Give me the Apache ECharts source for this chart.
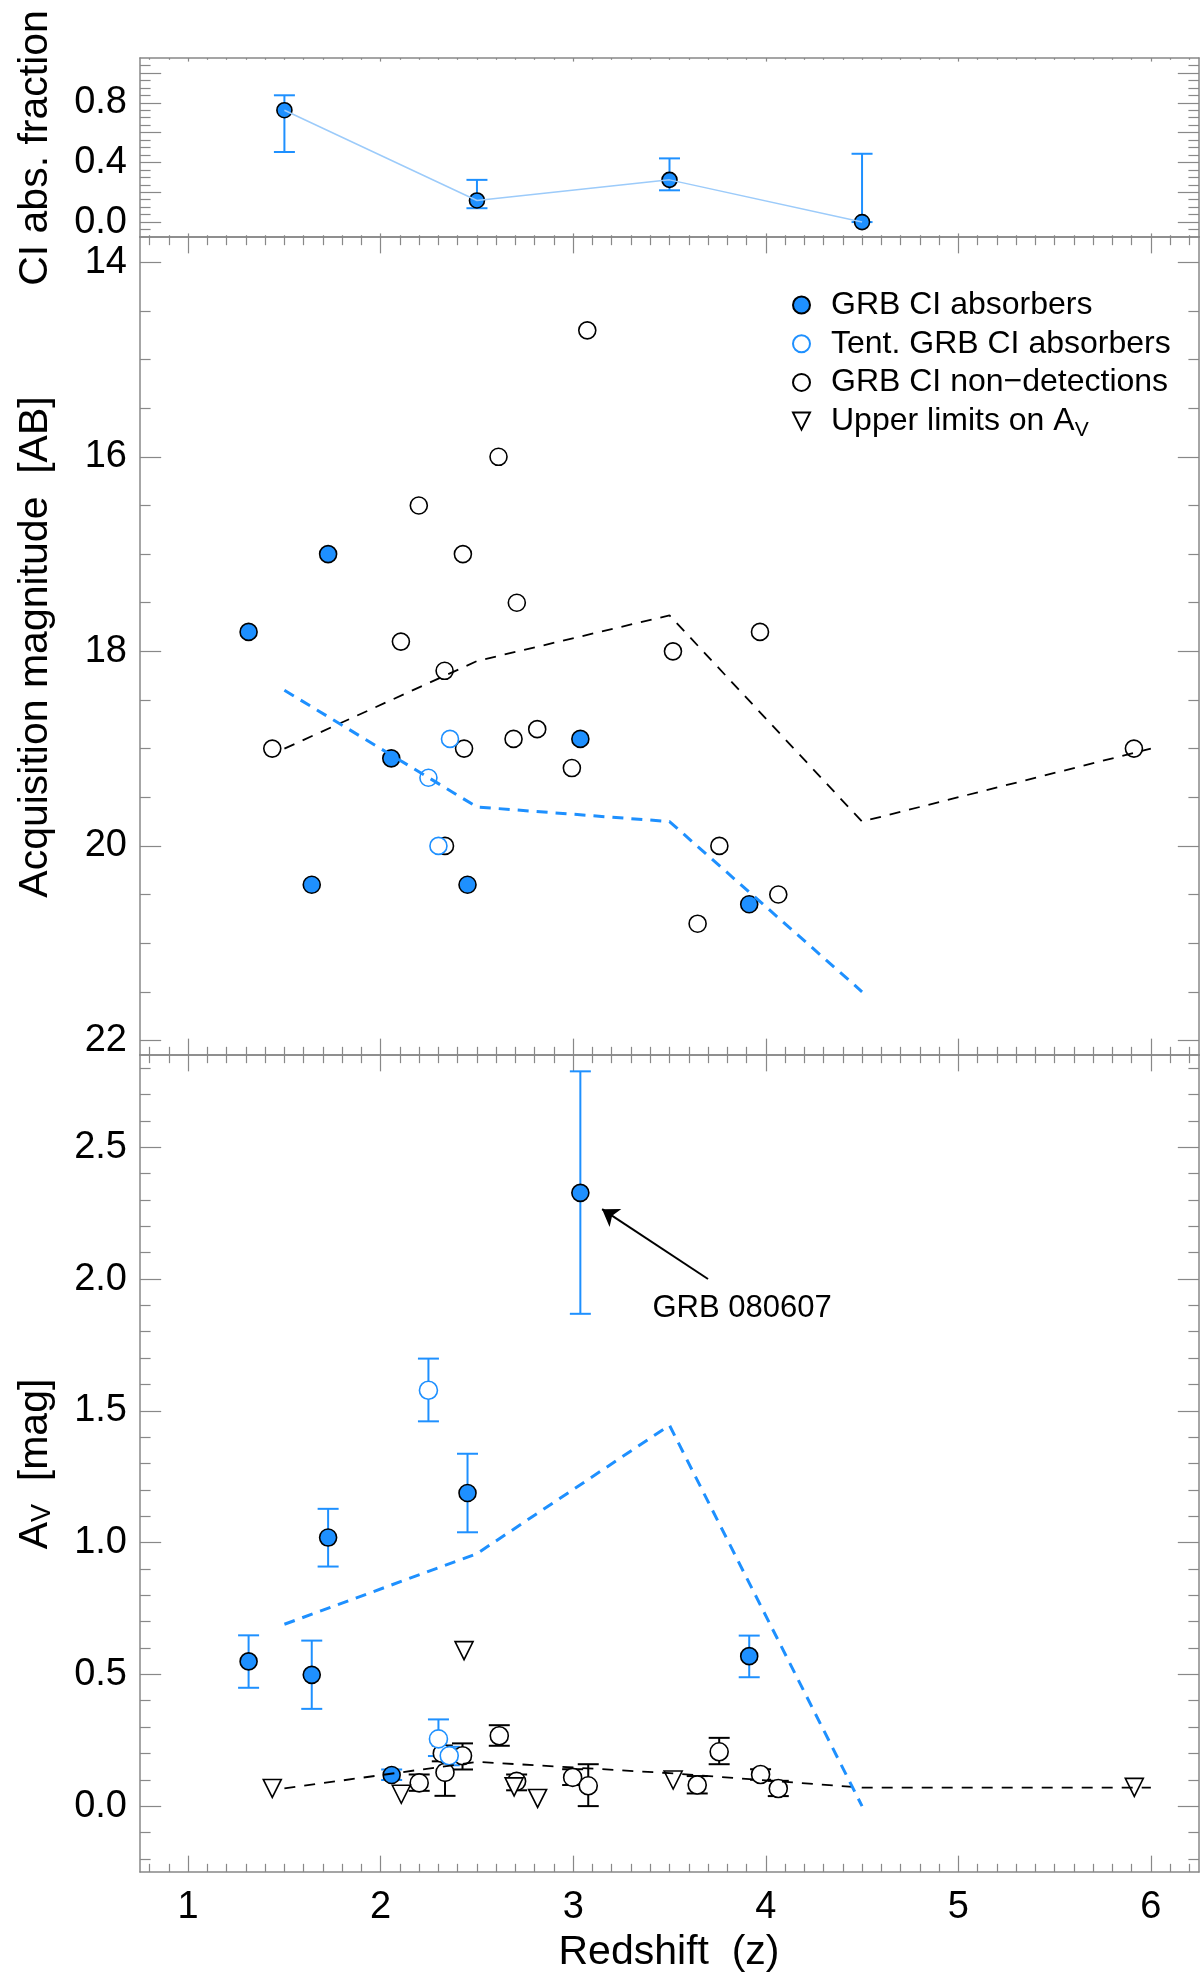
<!DOCTYPE html>
<html>
<head>
<meta charset="utf-8">
<script src="https://cdn.jsdelivr.net/npm/echarts@6/dist/echarts.min.js"></script>
<style>
html, body { margin: 0; padding: 0; background: #fff; }
#main { width: 1200px; height: 1986px; }
</style>
</head>
<body>
<div id="main"></div>
<script>
var FONT = '"Liberation Sans", Arial, Helvetica, sans-serif';
var BLUE = '#1e90ff';
var LIGHT = '#9ccbfa';
var AXIS = '#888888';
var TRI = 'path://M0,0L20,0L10,20Z';

// top panel: CI absorber fraction per redshift bin
var fracZ = [1.5, 2.5, 3.5, 4.5];
var fracVal = [0.75, 0.145, 0.283, 0.0];
var fracLow = [0.47, 0.093, 0.213, 0.0];
var fracHigh = [0.85, 0.283, 0.427, 0.458];

// middle panel: acquisition magnitude
var magAbsZ = [1.314, 1.642, 1.727, 2.055, 2.451, 3.037, 3.914];
var magAbsVal = [17.8, 20.4, 17.0, 19.1, 20.4, 18.9, 20.6];
var magTentZ = [2.248, 2.30, 2.36];
var magTentVal = [19.3, 20.0, 18.9];
var magNonZ = [1.437, 2.105, 2.198, 2.332, 2.334, 2.427, 2.433, 2.612, 2.69, 2.707, 2.813, 2.993, 3.073, 3.518, 3.646, 3.759, 3.97, 4.065, 5.912];
var magNonVal = [19.0, 17.9, 16.5, 18.2, 20.0, 17.0, 19.0, 16.0, 18.9, 17.5, 18.8, 19.2, 14.7, 18.0, 20.8, 20.0, 17.8, 20.5, 19.0];
var magBlackLineZ = [1.5, 2.5, 3.5, 4.5, 6.0];
var magBlackLineVal = [19.0, 18.1, 17.63, 19.75, 19.0];
var magBlueLineZ = [1.5, 2.5, 3.5, 4.5];
var magBlueLineVal = [18.4, 19.6, 19.75, 21.5];

// bottom panel: A_V
var avAbsZ = [1.314, 1.642, 1.727, 2.057, 2.451, 3.037, 3.914];
var avAbsVal = [0.549, 0.498, 1.019, 0.118, 1.188, 2.327, 0.569];
var avAbsLow = [0.449, 0.369, 0.909, 0.099, 1.039, 1.868, 0.489];
var avAbsHigh = [0.648, 0.628, 1.128, 0.139, 1.337, 2.788, 0.647];
var avTentZ = [2.248, 2.30, 2.356];
var avTentVal = [1.578, 0.255, 0.191];
var avTentLow = [1.46, 0.19, 0.155];
var avTentHigh = [1.698, 0.329, 0.225];
var avNonZ = [2.20, 2.32, 2.334, 2.425, 2.616, 2.706, 2.997, 3.078, 3.644, 3.758, 3.973, 4.065];
var avNonVal = [0.088, 0.20, 0.128, 0.191, 0.267, 0.094, 0.109, 0.077, 0.08, 0.206, 0.12, 0.067];
var avNonLow = [0.058, 0.17, 0.039, 0.139, 0.229, 0.06, 0.08, 0.0, 0.048, 0.159, 0.10, 0.038];
var avNonHigh = [0.12, 0.23, 0.217, 0.238, 0.307, 0.12, 0.14, 0.159, 0.114, 0.259, 0.14, 0.096];
var avLimZ = [1.437, 2.107, 2.433, 2.693, 2.815, 3.519, 5.914];
var avLimVal = [0.067, 0.045, 0.59, 0.073, 0.029, 0.099, 0.071];
var avBlackLineZ = [1.5, 2.5, 3.5, 4.5, 6.0];
var avBlackLineVal = [0.067, 0.168, 0.125, 0.07, 0.07];
var avBlueLineZ = [1.5, 2.5, 3.5, 4.5];
var avBlueLineVal = [0.69, 0.958, 1.445, 0.0];

// annotation arrow (tail, tip) in data units of the bottom panel
var arrowTail = [3.70, 2.0];
var arrowTip = [3.15, 2.265];

var xTickLabels = [1, 2, 3, 4, 5, 6];

var NAME_ABS = 'GRB CI absorbers';
var NAME_TENT = 'Tent. GRB CI absorbers';
var NAME_NON = 'GRB CI non\u2212detections';
var NAME_LIM = 'Upper limits on A_V';

function steps(a, b, s) {
    var out = [];
    for (var v = a; v <= b + 1e-9; v += s) out.push(Math.round(v * 1000) / 1000);
    return out;
}
function notOn(list, every) {
    return list.filter(function (v) {
        return Math.abs(v / every - Math.round(v / every)) > 1e-6;
    });
}

var grids = [
    { left: 140, top: 58, width: 1059, height: 179, outerBoundsMode: 'none' },
    { left: 140, top: 237, width: 1059, height: 818, outerBoundsMode: 'none' },
    { left: 140, top: 1055, width: 1059, height: 817, outerBoundsMode: 'none' }
];

var xMajor = steps(1, 6, 1);
var xMinor = notOn(steps(0.8, 6.2, 0.1), 1);

var yDefs = [
    { min: -0.1, max: 1.1, inverse: false, major: steps(0, 1, 0.2), minor: notOn(steps(-0.05, 1.05, 0.05), 0.2), labels: [0, 0.4, 0.8], dec: 1 },
    { min: 13.74, max: 22.15, inverse: true, major: steps(14, 22, 2), minor: notOn(steps(14, 22, 0.5), 2), labels: [14, 16, 18, 20, 22], dec: 0 },
    { min: -0.25, max: 2.85, inverse: false, major: steps(0, 2.5, 0.5), minor: notOn(steps(-0.2, 2.8, 0.1), 0.5), labels: [0, 0.5, 1, 1.5, 2, 2.5], dec: 1 }
];

var labelStyle = { color: '#000', fontFamily: FONT, fontSize: 38 };

function axis(gi, pos, min, max, inverse, ticks, len, withLine, labels, dec, margin) {
    return {
        type: 'value', gridIndex: gi, position: pos, min: min, max: max, inverse: inverse,
        axisLine: { show: withLine, onZero: false, lineStyle: { color: AXIS, width: 1.5 } },
        axisTick: { show: true, inside: true, length: len, customValues: ticks, lineStyle: { color: AXIS, width: 1.2 } },
        axisLabel: labels ? Object.assign({
            show: true, customValues: labels, margin: margin,
            formatter: function (v) { return v.toFixed(dec); }
        }, labelStyle) : { show: false },
        splitLine: { show: false }
    };
}

var xAxes = [], yAxes = [];
grids.forEach(function (g, gi) {
    var xl = g.height * 0.02;
    var yl = g.width * 0.02;
    var lab = gi === 2 ? xTickLabels : null;
    xAxes.push(axis(gi, 'bottom', 0.75, 6.25, false, xMajor, xl, true, lab, 0, 17));
    xAxes.push(axis(gi, 'bottom', 0.75, 6.25, false, xMinor, xl / 2, false, null));
    xAxes.push(axis(gi, 'top', 0.75, 6.25, false, xMajor, xl, true, null));
    xAxes.push(axis(gi, 'top', 0.75, 6.25, false, xMinor, xl / 2, false, null));
    var d = yDefs[gi];
    yAxes.push(axis(gi, 'left', d.min, d.max, d.inverse, d.major, yl, true, d.labels, d.dec, 13));
    yAxes.push(axis(gi, 'left', d.min, d.max, d.inverse, d.minor, yl / 2, false, null));
    yAxes.push(axis(gi, 'right', d.min, d.max, d.inverse, d.major, yl, true, null));
    yAxes.push(axis(gi, 'right', d.min, d.max, d.inverse, d.minor, yl / 2, false, null));
});

function pairs(zs, vals) {
    return zs.map(function (z, i) { return [z, vals[i]]; });
}

function points(name, gi, zs, vals, fill, stroke, size, symbol) {
    return {
        name: name, type: 'scatter', xAxisIndex: gi * 4, yAxisIndex: gi * 4,
        data: pairs(zs, vals),
        symbol: symbol || 'circle', symbolSize: size,
        itemStyle: { color: fill, borderColor: stroke, borderWidth: 1.6, opacity: 1 },
        emphasis: { disabled: true }
    };
}

function trend(name, gi, zs, vals, color, width, dash) {
    return {
        name: name, type: 'line', xAxisIndex: gi * 4, yAxisIndex: gi * 4,
        data: pairs(zs, vals), symbol: 'none', silent: true,
        lineStyle: { color: color, width: width, type: dash },
        emphasis: { disabled: true }
    };
}

function errorBars(name, gi, zs, lows, highs, color) {
    return {
        name: name, type: 'custom', xAxisIndex: gi * 4, yAxisIndex: gi * 4, silent: true,
        data: zs.map(function (z, i) { return [z, lows[i], highs[i]]; }),
        encode: { x: 0, y: [1, 2] },
        renderItem: function (params, api) {
            var lo = api.coord([api.value(0), api.value(1)]);
            var hi = api.coord([api.value(0), api.value(2)]);
            var cap = 10.5;
            var st = { stroke: color, lineWidth: 2 };
            return {
                type: 'group', children: [
                    { type: 'line', shape: { x1: lo[0], y1: lo[1], x2: hi[0], y2: hi[1] }, style: st },
                    { type: 'line', shape: { x1: lo[0] - cap, y1: lo[1], x2: lo[0] + cap, y2: lo[1] }, style: st },
                    { type: 'line', shape: { x1: hi[0] - cap, y1: hi[1], x2: hi[0] + cap, y2: hi[1] }, style: st }
                ]
            };
        }
    };
}

var absAv = points(NAME_ABS, 2, avAbsZ, avAbsVal, BLUE, '#000', 17);
absAv.markLine = {
    silent: true, symbol: ['none', 'arrow'], symbolSize: 16,
    lineStyle: { color: '#000', width: 2, type: 'solid' },
    label: { show: false },
    data: [[{ coord: arrowTail }, { coord: arrowTip }]]
};

var series = [
    // top
    trend('frac line', 0, fracZ, fracVal, LIGHT, 1.5, 'solid'),
    errorBars('frac err', 0, fracZ, fracLow, fracHigh, BLUE),
    points('frac', 0, fracZ, fracVal, BLUE, '#000', 15),
    // middle
    trend('mag black', 1, magBlackLineZ, magBlackLineVal, '#000', 1.8, [11, 9]),
    trend('mag blue', 1, magBlueLineZ, magBlueLineVal, BLUE, 3, [11, 8]),
    points(NAME_NON, 1, magNonZ, magNonVal, '#fff', '#000', 17),
    points(NAME_TENT, 1, magTentZ, magTentVal, '#fff', BLUE, 17),
    points(NAME_ABS, 1, magAbsZ, magAbsVal, BLUE, '#000', 17),
    // bottom
    trend('av black', 2, avBlackLineZ, avBlackLineVal, '#000', 1.8, [11, 9]),
    trend('av blue', 2, avBlueLineZ, avBlueLineVal, BLUE, 3, [11, 8]),
    errorBars('non err', 2, avNonZ, avNonLow, avNonHigh, '#000'),
    points(NAME_NON, 2, avNonZ, avNonVal, '#fff', '#000', 18),
    points(NAME_LIM, 2, avLimZ, avLimVal, '#fff', '#000', 18, TRI),
    errorBars('tent err', 2, avTentZ, avTentLow, avTentHigh, BLUE),
    points(NAME_TENT, 2, avTentZ, avTentVal, '#fff', BLUE, 18),
    errorBars('abs err', 2, avAbsZ, avAbsLow, avAbsHigh, BLUE),
    absAv
];

var titleFont = { fontFamily: FONT, fontSize: 41, fill: '#000' };

function vtitle(text, x, y, rich) {
    return {
        type: 'text', x: x, y: y, rotation: Math.PI / 2, silent: true,
        style: Object.assign({ text: text, align: 'center', verticalAlign: 'middle', rich: rich || {} }, titleFont)
    };
}

var option = {
    animation: false,
    backgroundColor: '#fff',
    grid: grids,
    xAxis: xAxes,
    yAxis: yAxes,
    legend: {
        orient: 'vertical', left: 792, top: 289, padding: 0,
        itemWidth: 17, itemHeight: 17, itemGap: 6.7,
        selectedMode: false,
        textStyle: {
            fontFamily: FONT, fontSize: 32, color: '#000', lineHeight: 32, padding: [0, 0, 0, 16],
            rich: { sub: { fontFamily: FONT, fontSize: 21, lineHeight: 6, verticalAlign: 'top', padding: [15, 0, 0, 0], color: '#000' } }
        },
        formatter: function (name) {
            return name === NAME_LIM ? 'Upper limits on A{sub|V}' : name;
        },
        data: [
            { name: NAME_ABS, icon: 'circle' },
            { name: NAME_TENT, icon: 'circle' },
            { name: NAME_NON, icon: 'circle' },
            { name: NAME_LIM, icon: TRI }
        ]
    },
    graphic: [
        vtitle('CI abs. fraction', 36, 148),
        vtitle('Acquisition magnitude  [AB]', 36, 647),
        vtitle('A{s|V}  [mag]', 36, 1464, { s: { fontFamily: FONT, fontSize: 27, lineHeight: 12, verticalAlign: 'bottom', fill: '#000' } }),
        {
            type: 'text', x: 669, y: 1953, silent: true,
            style: Object.assign({ text: 'Redshift  (z)', align: 'center', verticalAlign: 'middle' }, titleFont)
        },
        {
            type: 'text', x: 742, y: 1308, silent: true,
            style: { text: 'GRB 080607', align: 'center', verticalAlign: 'middle', fontFamily: FONT, fontSize: 31, fill: '#000' }
        }
    ],
    series: series
};

var chart = echarts.init(document.getElementById('main'));
chart.setOption(option);
window.onresize = function () { chart.resize(); };
</script>
</body>
</html>
